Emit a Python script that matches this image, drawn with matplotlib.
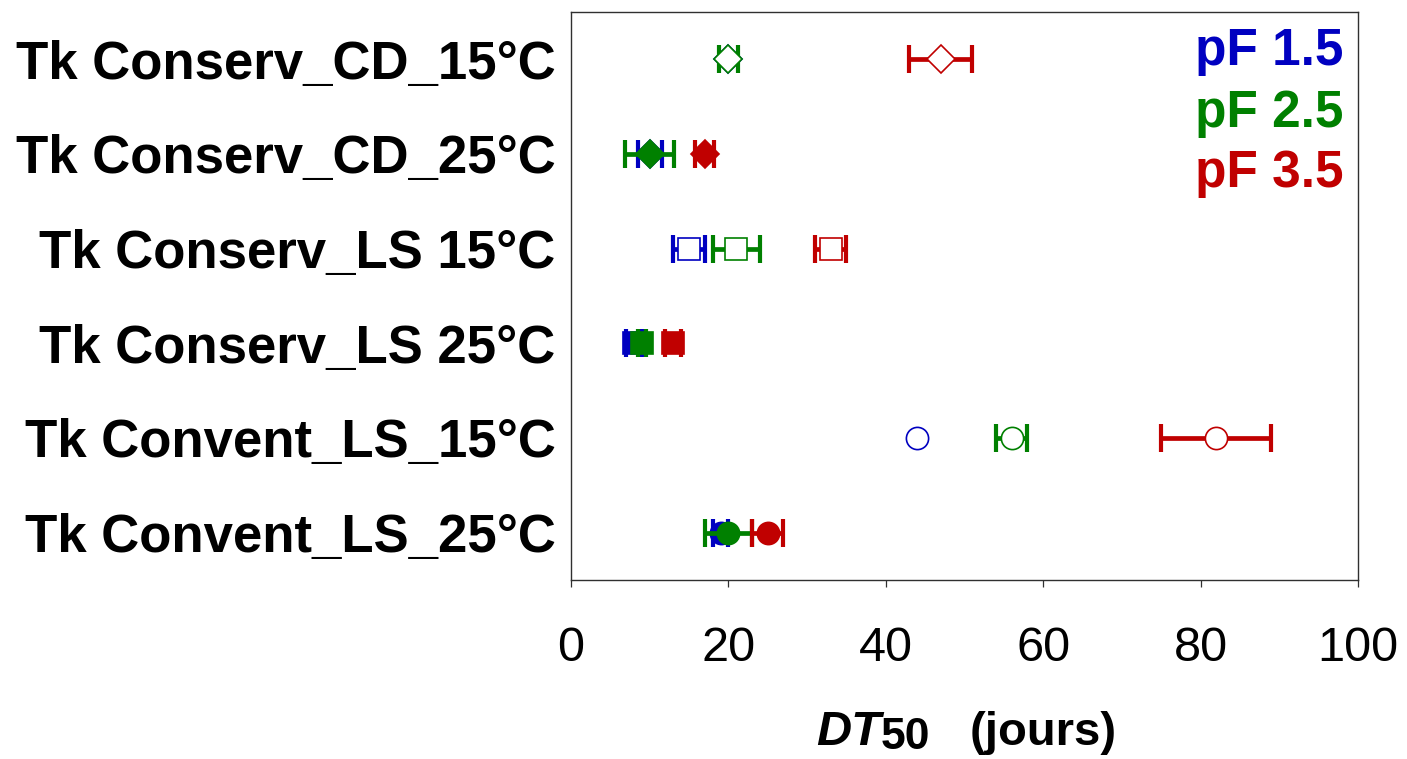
import matplotlib
matplotlib.use("Agg")
import matplotlib.pyplot as plt
import numpy as np

plt.rcParams['font.family'] = ['Liberation Sans', 'DejaVu Sans']

categories = ["Tk Conserv_CD_15°C", "Tk Conserv_CD_25°C", "Tk Conserv_LS 15°C",
              "Tk Conserv_LS 25°C", "Tk Convent_LS_15°C", "Tk Convent_LS_25°C"]
markers = ['D', 'D', 's', 's', 'o', 'o']
filled = [False, True, False, True, False, True]

series_names = ["pF 1.5", "pF 2.5", "pF 3.5"]
series_colors = ["#0000C0", "#008000", "#C00000"]

pf15_values = [20.0, 10.0, 15.0, 8.0, 44.0, 19.0]
pf15_errors = [0.0, 1.5, 2.0, 1.0, 0.0, 1.0]
pf25_values = [20.0, 10.0, 21.0, 9.0, 56.0, 20.0]
pf25_errors = [1.2, 3.1, 3.0, 0.5, 2.0, 3.0]
pf35_values = [47.0, 17.0, 33.0, 13.0, 82.0, 25.0]
pf35_errors = [4.0, 1.2, 2.0, 1.0, 7.0, 2.0]

values = [pf15_values, pf25_values, pf35_values]
errors = [pf15_errors, pf25_errors, pf35_errors]

W, H = 1407, 759
fig = plt.figure(figsize=(W / 100, H / 100), dpi=100)
ax = fig.add_axes([571/W, 1 - 580/H, (1358-571)/W, (580-12)/H])

ypos = np.arange(len(categories))
for s in range(3):
    col = series_colors[s]
    for i in range(len(categories)):
        err = errors[s][i]
        line, caps, bars = ax.errorbar(
            values[s][i], ypos[i], xerr=err if err > 0 else None, fmt=markers[i],
            color=col, ecolor=col, elinewidth=3.4, capsize=10,
            markersize=16 if markers[i] != 'D' else 14.5,
            markerfacecolor=col if filled[i] else 'white',
            markeredgecolor=col, markeredgewidth=1.2, zorder=3 + s)
        for c in caps:
            c.set_markeredgewidth(3.0)

ax.set_xlim(0, 100)
ax.set_ylim(len(categories) - 0.5, -0.5)
ax.set_xticks(np.arange(0, 101, 20))
ax.set_yticks(ypos)
ax.set_yticklabels(categories, fontsize=38, fontweight='bold')
ax.tick_params(axis='y', length=0, pad=11)
ax.tick_params(axis='x', direction='out', length=5, width=0.9, labelsize=35, pad=28,
               color='#303030')
for sp in ax.spines.values():
    sp.set_linewidth(1.0)
    sp.set_color('#303030')

# x-axis label: DT (bold italic) + subscript 50 (bold) + (jours) (bold)
base_y = (H - 745) / H
fig.text(816 / W, base_y, "DT", fontsize=35, fontweight='bold', fontstyle='italic',
         ha='left', va='baseline')
fig.text(881 / W, 1.0 / H, "50", fontsize=32, fontweight='bold',
         ha='left', va='bottom')
fig.text(970 / W, base_y, "(jours)", fontsize=34, fontweight='bold',
         ha='left', va='baseline')

legend_y = [0.930, 0.821, 0.716]
for s in range(3):
    ax.text(0.981, legend_y[s], series_names[s], transform=ax.transAxes,
            ha='right', va='center', fontsize=37, fontweight='bold',
            color=series_colors[s])

fig.savefig("out.png", dpi=100)
